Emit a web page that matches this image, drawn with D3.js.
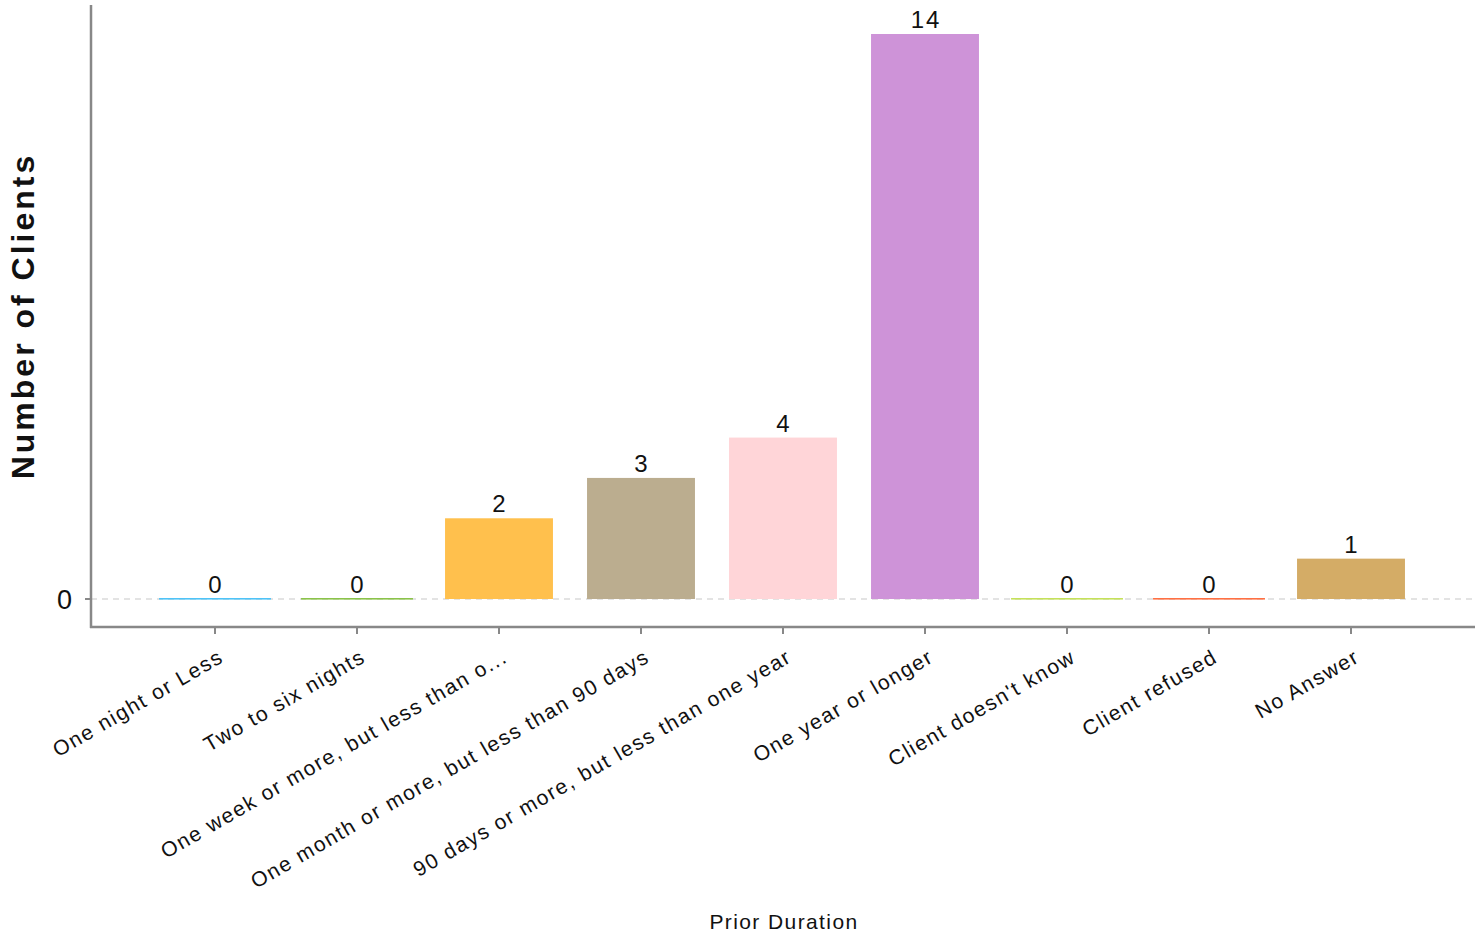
<!DOCTYPE html>
<html>
<head>
<meta charset="utf-8">
<script src="https://cdn.jsdelivr.net/npm/d3@7"></script>
<style>
  html, body { margin: 0; padding: 0; background: #fff; }
  svg { display: block; font-family: "Liberation Sans", Arial, sans-serif; }
</style>
</head>
<body>
<svg id="chart" width="1481" height="938"></svg>
<script>
const categories = [
  "One night or Less",
  "Two to six nights",
  "One week or more, but less than o...",
  "One month or more, but less than 90 days",
  "90 days or more, but less than one year",
  "One year or longer",
  "Client doesn't know",
  "Client refused",
  "No Answer"
];
const values = [0, 0, 2, 3, 4, 14, 0, 0, 1];
const colors = ["#4FC3F7", "#8BC34A", "#FFC04D", "#BBAD8F", "#FFD5D8", "#CE93D8", "#C5E15A", "#FF7043", "#D4AC66"];
const yTicks = [0];
const xTitle = "Prior Duration";
const yTitle = "Number of Clients";

const svg = d3.select("#chart");
const axisLeftX = 91, axisBottomY = 627, axisTopY = 5, axisRightX = 1475;

const x = d3.scaleBand().domain(categories).range([144, 1422]).paddingInner(0.24).paddingOuter(0.12);
const y = d3.scaleLinear().domain([0, 14]).range([599, 34]);

// dashed baseline
svg.append("line")
  .attr("x1", axisLeftX).attr("x2", axisRightX)
  .attr("y1", y(0)).attr("y2", y(0))
  .attr("stroke", "#c8c8c8").attr("stroke-width", 1.2)
  .attr("stroke-dasharray", "6,5");

// bars
categories.forEach((c, i) => {
  const v = values[i];
  if (v > 0) {
    svg.append("rect")
      .attr("x", x(c)).attr("width", x.bandwidth())
      .attr("y", y(v)).attr("height", y(0) - y(v))
      .attr("fill", colors[i]);
  } else {
    svg.append("rect")
      .attr("x", x(c) - 2).attr("width", x.bandwidth() + 4)
      .attr("y", y(0) - 1).attr("height", 1.6)
      .attr("fill", colors[i]);
  }
  svg.append("text")
    .attr("x", x(c) + x.bandwidth() / 2 + 1)
    .attr("y", y(v) - 6)
    .attr("text-anchor", "middle")
    .attr("font-size", 24)
    .attr("letter-spacing", "2px")
    .attr("fill", "#111")
    .text(v);
});

// axes
const axisColor = "#888";
svg.append("line").attr("x1", axisLeftX).attr("x2", axisLeftX).attr("y1", axisTopY).attr("y2", axisBottomY + 1)
  .attr("stroke", axisColor).attr("stroke-width", 2.5);
svg.append("line").attr("x1", axisLeftX - 1).attr("x2", axisRightX).attr("y1", axisBottomY).attr("y2", axisBottomY)
  .attr("stroke", axisColor).attr("stroke-width", 2.5);

// y ticks
yTicks.forEach(t => {
  svg.append("line").attr("x1", axisLeftX - 6).attr("x2", axisLeftX).attr("y1", y(t)).attr("y2", y(t))
    .attr("stroke", axisColor).attr("stroke-width", 2);
  svg.append("text").attr("x", axisLeftX - 19).attr("y", y(t)).attr("dy", "0.36em")
    .attr("text-anchor", "end").attr("font-size", 27).attr("fill", "#111").text(t);
});

// x ticks and labels
categories.forEach(c => {
  const cx = x(c) + x.bandwidth() / 2;
  svg.append("line").attr("x1", cx).attr("x2", cx).attr("y1", axisBottomY).attr("y2", axisBottomY + 7)
    .attr("stroke", axisColor).attr("stroke-width", 2);
  svg.append("text")
    .attr("transform", `translate(${cx + 10},${axisBottomY + 34}) rotate(-30)`)
    .attr("text-anchor", "end")
    .attr("font-size", 21)
    .attr("letter-spacing", "1.6px")
    .attr("fill", "#111")
    .text(c);
});

// titles
svg.append("text").attr("x", 784).attr("y", 929).attr("text-anchor", "middle")
  .attr("font-size", 21).attr("letter-spacing", "1.4px").attr("fill", "#111").text(xTitle);
svg.append("text").attr("transform", "translate(34,316) rotate(-90)").attr("text-anchor", "middle")
  .attr("font-size", 32).attr("font-weight", "bold").attr("letter-spacing", "3px").attr("fill", "#111").text(yTitle);
</script>
</body>
</html>
